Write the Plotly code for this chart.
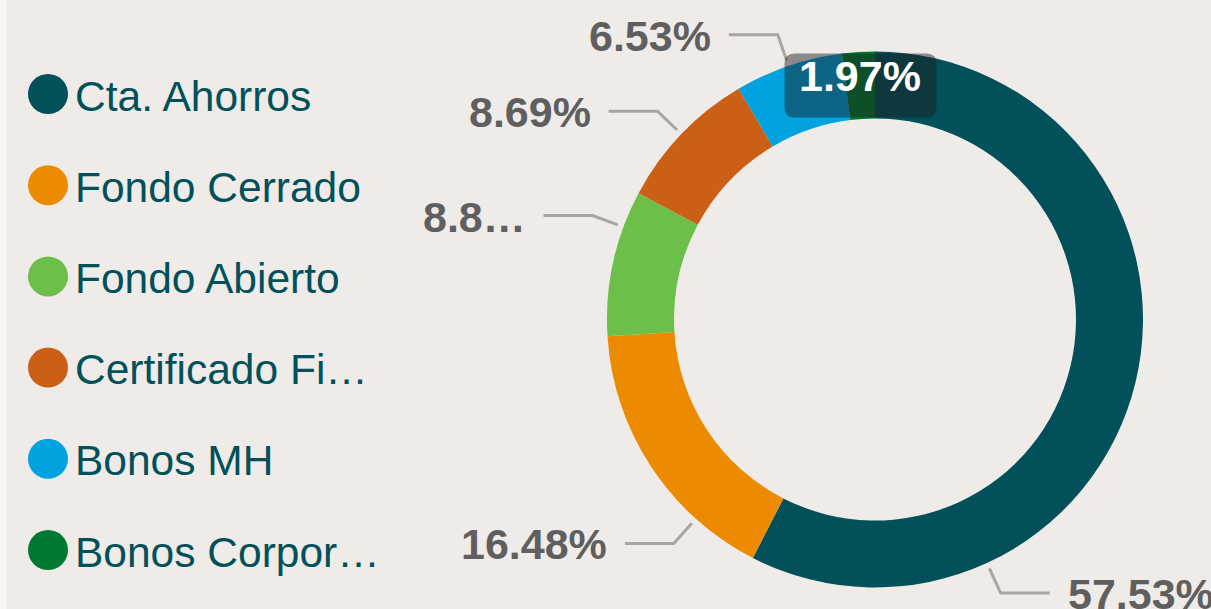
import math
import plotly.graph_objects as go

# ---------------- data ----------------
categories = ["Cta. Ahorros", "Fondo Cerrado", "Fondo Abierto",
              "Certificado Financiero", "Bonos MH", "Bonos Corporativos"]
legend_names = ["Cta. Ahorros", "Fondo Cerrado", "Fondo Abierto",
                "Certificado Fi…", "Bonos MH", "Bonos Corpor…"]
values = [57.53, 16.48, 8.80, 8.69, 6.53, 1.97]
value_labels = ["57.53%", "16.48%", "8.8…", "8.69%", "6.53%", "1.97%"]
colors = ["#01505A", "#EC8A00", "#6CC04A", "#CB5F15", "#00A3E0", "#007A33"]

# ---------------- style ----------------
W, H = 1211, 609
CX, CY, R = 875, 319.5, 268
HOLE = 0.75
anchor_frac = [0.75, 0.25, 0.75, 0.5, 0.5, None]   # None -> inside label
FONT = "Liberation Sans, Arial, sans-serif"
LABEL_GRAY = "#5F5F5F"
LINE_GRAY = "#A6A6A6"
TEXT_TEAL = "#01505A"
BG = "#EFEBE8"


def X(px):
    return px / W


def Y(py):
    return 1 - py / H


fig = go.Figure(go.Pie(
    labels=categories, values=values, sort=False, direction="clockwise",
    rotation=0, hole=HOLE, textinfo="none", showlegend=False,
    marker=dict(colors=colors, line=dict(width=0)),
    domain=dict(x=[X(CX - R), X(CX + R)], y=[Y(CY + R), Y(CY - R)]),
))

shapes = [dict(type="rect", xref="paper", yref="paper", x0=X(6), x1=1, y0=0, y1=1,
               fillcolor=BG, line=dict(width=0), layer="below")]
annotations = []

total = sum(values)
cum = 0.0
for i, v in enumerate(values):
    start = cum / total * 360
    end = (cum + v) / total * 360
    cum += v
    if anchor_frac[i] is None:
        th = math.radians((start + end) / 2)
        rr = R * (1 + HOLE) / 2
        tx = CX + rr * math.sin(th)
        ty = CY - rr * math.cos(th) - 9
        x0, x1, y0, y1, c = tx - 76, tx + 76, ty - 23, ty + 41, 10
        path = (f"M {X(x0+c)} {Y(y0)} L {X(x1-c)} {Y(y0)} Q {X(x1)} {Y(y0)} {X(x1)} {Y(y0+c)} "
                f"L {X(x1)} {Y(y1-c)} Q {X(x1)} {Y(y1)} {X(x1-c)} {Y(y1)} "
                f"L {X(x0+c)} {Y(y1)} Q {X(x0)} {Y(y1)} {X(x0)} {Y(y1-c)} "
                f"L {X(x0)} {Y(y0+c)} Q {X(x0)} {Y(y0)} {X(x0+c)} {Y(y0)} Z")
        shapes.append(dict(type="path", xref="paper", yref="paper", path=path,
                           fillcolor="rgba(30,30,30,0.47)", line=dict(width=0)))
        annotations.append(dict(x=X(tx), y=Y(ty), xref="paper", yref="paper",
                                text=f"<b>{value_labels[i]}</b>", showarrow=False,
                                xanchor="center", yanchor="middle",
                                font=dict(family=FONT, size=43, color="white")))
        continue
    th = math.radians(start + anchor_frac[i] * (end - start))
    ax, ay = CX + (R + 6) * math.sin(th), CY - (R + 6) * math.cos(th)
    ex, ey = CX + (R + 33) * math.sin(th), CY - (R + 33) * math.cos(th)
    side = 1 if ex > CX else -1
    hx = ex + side * 49
    shapes.append(dict(type="path", xref="paper", yref="paper",
                       path=f"M {X(ax)} {Y(ay)} L {X(ex)} {Y(ey)} L {X(hx)} {Y(ey)}",
                       line=dict(color=LINE_GRAY, width=3)))
    annotations.append(dict(x=X(hx + side * 16), y=Y(ey + 1), xref="paper", yref="paper",
                            text=f"<b>{value_labels[i]}</b>", showarrow=False,
                            xanchor="left" if side > 0 else "right", yanchor="middle",
                            font=dict(family=FONT, size=43, color=LABEL_GRAY)))

# custom legend
for i, name in enumerate(legend_names):
    yc = 94 + i * 91.2
    shapes.append(dict(type="circle", xref="paper", yref="paper",
                       x0=X(28), x1=X(68), y0=Y(yc + 20), y1=Y(yc - 20),
                       fillcolor=colors[i], line=dict(width=0)))
    annotations.append(dict(x=X(73), y=Y(yc + 2), xref="paper", yref="paper",
                            text=name, showarrow=False, xanchor="left", yanchor="middle",
                            font=dict(family=FONT, size=42.5, color=TEXT_TEAL)))

fig.update_layout(
    width=W, height=H, margin=dict(l=0, r=0, t=0, b=0),
    paper_bgcolor="#F7F6F5", plot_bgcolor=BG,
    shapes=shapes, annotations=annotations, showlegend=False,
)

fig.write_html("out.html", config={"displayModeBar": False},
               post_script="document.body.style.margin='0px';document.body.style.overflow='hidden';")
